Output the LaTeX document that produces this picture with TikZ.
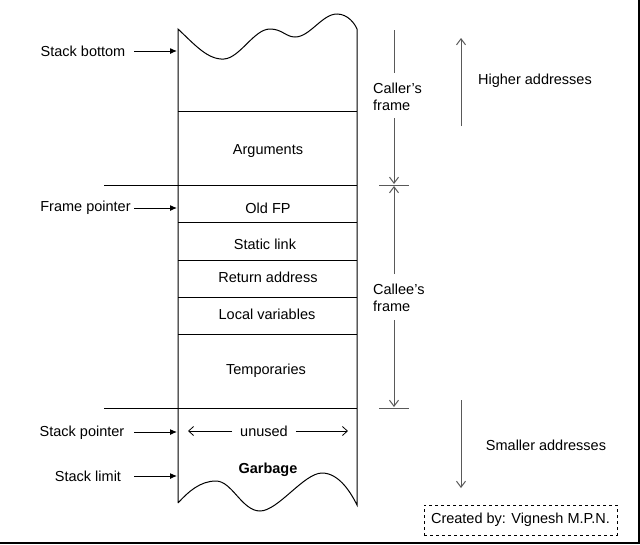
\documentclass[tikz,border=0pt]{standalone}
\usepackage{fontspec}
\setmainfont{Liberation Sans}
\usetikzlibrary{arrows.meta}
\begin{document}
\begin{tikzpicture}[x=1pt,y=-1pt,
  font=\fontsize{14.5}{17}\selectfont,
  stackline/.style={line width=1pt, black},
  ptr/.style={line width=1pt, -{Latex[length=7pt,width=6pt]}},
  framearrow/.style={line width=1pt, black!65, -{Straight Barb[length=6pt,width=9pt]}},
  frameline/.style={line width=1pt, black!65},
  lbl/.style={inner sep=0pt},
  cell/.style={inner sep=0pt}]
\useasboundingbox (0,0) rectangle (640,544);
% stack column
\draw[stackline] (178,503) -- (178,29)
  .. controls (195,45) and (208,60) .. (224,59)
  .. controls (240,58) and (254,29) .. (270,29)
  .. controls (282,29) and (286,37) .. (295,37)
  .. controls (310,37) and (322,14) .. (337,14)
  .. controls (348,14) and (355,24) .. (357,29) -- (357,505)
  .. controls (352,495) and (340,473) .. (322,473)
  .. controls (304,473) and (278,511) .. (260,511)
  .. controls (242,511) and (232,481) .. (216,481)
  .. controls (200,481) and (188,492) .. (178,503);
\foreach \yy in {111,222,260,297,334}
  \draw[stackline] (178,\yy) -- (357,\yy);
\draw[stackline] (104,185) -- (357,185);
\draw[stackline] (104,408) -- (357,408);
% cell texts
\node[cell] (args) at (268,151) {Arguments};
\node[cell] (oldfp) at (268,208) {Old FP};
\node[cell] (slink) at (265,244) {Static link};
\node[cell] (raddr) at (268,277) {Return address};
\node[cell] (lvars) at (267,314) {Local variables};
\node[cell] (temps) at (266,371) {Temporaries};
\node[cell] (unused) at (264,431) {unused};
\node[cell,font=\fontsize{14.5}{17}\selectfont\bfseries] (garb) at (268,470) {Garbage};
\coordinate (uL) at (188,431);
\coordinate (uR) at (348,431);
\draw[line width=0.8pt, -{Straight Barb[length=5pt,width=9pt]}] ([xshift=-8pt]unused.west) -- (uL);
\draw[line width=0.8pt, -{Straight Barb[length=5pt,width=9pt]}] ([xshift=8pt]unused.east) -- (uR);
% left labels
\node[lbl] (sb) at (83,51) {Stack bottom};
\node[lbl] (fp) at (85.5,208) {Frame pointer};
\node[lbl] (sp) at (82,433) {Stack pointer};
\node[lbl] (sl) at (88,476) {Stack limit};
\coordinate (sbS) at (134,51);   \coordinate (sbE) at (177,51);
\coordinate (fpS) at (134,208);  \coordinate (fpE) at (177,208);
\coordinate (spS) at (134,432);  \coordinate (spE) at (177,432);
\coordinate (slS) at (134,476);  \coordinate (slE) at (177,476);
\draw[ptr] (sbS) -- (sbE);
\draw[ptr] (fpS) -- (fpE);
\draw[ptr] (spS) -- (spE);
\draw[ptr] (slS) -- (slE);
% frame markers
\node[lbl, align=left, anchor=west] (caller) at (373,97) {Caller's\\frame};
\node[lbl, align=left, anchor=west] (callee) at (373,298) {Callee's\\frame};
\coordinate (c1) at (394,30);
\coordinate (c2) at (394,73);
\coordinate (c3) at (394,118);
\coordinate (c4) at (394,184);
\coordinate (c5) at (394,186);
\coordinate (c6) at (394,274);
\coordinate (c7) at (394,320);
\coordinate (c8) at (394,407);
\draw[frameline] (c1) -- (c2);
\draw[framearrow] (c3) -- (c4);
\draw[framearrow] (c6) -- (c5);
\draw[framearrow] (c7) -- (c8);
\coordinate (t1a) at (379,185); \coordinate (t1b) at (409,185);
\coordinate (t2a) at (379,408); \coordinate (t2b) at (409,408);
\draw[frameline] (t1a) -- (t1b);
\draw[frameline] (t2a) -- (t2b);
% address direction
\node[lbl] (high) at (535,81) {Higher addresses};
\node[lbl] (low) at (546,445) {Smaller addresses};
\coordinate (h1) at (461,126); \coordinate (h2) at (461,38);
\coordinate (l1) at (461,400); \coordinate (l2) at (461,488);
\draw[framearrow] (h1) -- (h2);
\draw[framearrow] (l1) -- (l2);
% credit box
\node[draw, dashed, line width=0.9pt, minimum width=193pt, minimum height=30pt, inner sep=0pt] (credit) at (520.5,520) {Created by: Vignesh M.P.N.};
% edge border
\draw[line width=2.5pt, black] (639,0) -- (639,543) -- (0,543);
\end{tikzpicture}
\end{document}
